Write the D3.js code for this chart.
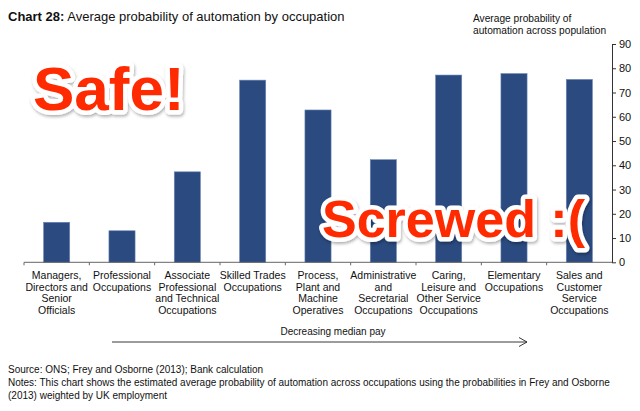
<!DOCTYPE html>
<html><head><meta charset="utf-8">
<script src="https://cdn.jsdelivr.net/npm/d3@7/dist/d3.min.js"></script>
<style>
body{margin:0;background:#fff;}
svg{display:block;font-family:"Liberation Sans",Arial,Helvetica,sans-serif;}
</style></head>
<body>
<script>
const categories = [
  ["Managers,","Directors and","Senior","Officials"],
  ["Professional","Occupations"],
  ["Associate","Professional","and Technical","Occupations"],
  ["Skilled Trades","Occupations"],
  ["Process,","Plant and","Machine","Operatives"],
  ["Administrative","and","Secretarial","Occupations"],
  ["Caring,","Leisure and","Other Service","Occupations"],
  ["Elementary","Occupations"],
  ["Sales and","Customer","Service","Occupations"]
];
const values = [16.5, 13.0, 37.3, 75.1, 62.8, 42.3, 77.2, 77.8, 75.4];
const yTicks = [0,10,20,30,40,50,60,70,80,90];
const titleBold = "Chart 28:";
const titleText = " Average probability of automation by occupation";
const yTitle = ["Average probability of","automation across population"];
const arrowLabel = "Decreasing median pay";
const notes = [
  "Source: ONS; Frey and Osborne (2013); Bank calculation",
  "Notes: This chart shows the estimated average probability of automation across occupations using the probabilities in Frey and Osborne",
  "(2013) weighted by UK employment"
];
const stickers = [{text:"Safe!", size:62}, {text:"Screwed :(", size:52}];

const W = 640, H = 411;
const svg = d3.select("body").append("svg").attr("width", W).attr("height", H);

const x = d3.scaleBand().domain(d3.range(categories.length)).range([24, 612]).paddingInner(0.6).paddingOuter(0.3);
const y = d3.scaleLinear().domain([0, 90]).range([262.3, 44]);

// defs for sticker shadow
const defs = svg.append("defs");
const f = defs.append("filter").attr("id","sh").attr("x","-10%").attr("y","-20%").attr("width","130%").attr("height","150%");
f.append("feDropShadow").attr("dx",1).attr("dy",2).attr("stdDeviation",1.5).attr("flood-color","#000").attr("flood-opacity",0.3);

// title
const t = svg.append("text").attr("x", 8).attr("y", 21).attr("font-size", 13).attr("fill", "#111");
t.append("tspan").attr("font-weight","bold").text(titleBold);
t.append("tspan").text(titleText);

// y title
svg.append("g").selectAll("text").data(yTitle).join("text")
  .attr("x", 473).attr("y", (d,i)=> 22 + i*12).attr("font-size", 10.2).attr("fill","#111").text(d=>d);

// bars
svg.append("g").selectAll("rect").data(values).join("rect")
  .attr("x", (d,i)=> x(i)).attr("width", x.bandwidth())
  .attr("y", d=> y(d)).attr("height", d=> y(0)-y(d))
  .attr("fill", "#2a4a80").attr("stroke","#6d87b3").attr("stroke-width",0.6);

// x axis line + ticks at band boundaries
const step = x.step();
const gx = svg.append("g");
gx.append("line").attr("x1", 24).attr("x2", 612).attr("y1", y(0)).attr("y2", y(0)).attr("stroke","#666").attr("stroke-width",1);
gx.selectAll("line.tk").data(d3.range(categories.length)).join("line").attr("class","tk")
  .attr("x1", (d,i)=> x(i) - step*0.3).attr("x2", (d,i)=> x(i) - step*0.3)
  .attr("y1", y(0)).attr("y2", y(0)+3).attr("stroke","#666");

// y axis
const gy = svg.append("g").attr("transform", "translate(612,0)")
  .call(d3.axisRight(y).tickValues(yTicks).tickSize(4).tickPadding(3).tickSizeOuter(0));
gy.select(".domain").attr("stroke","#333");
gy.selectAll(".tick line").attr("stroke","#333");
gy.selectAll(".tick text").attr("font-size", 11).attr("fill","#111").attr("font-family","Liberation Sans, Arial, sans-serif");

// x labels
const gl = svg.append("g");
categories.forEach((lines, i) => {
  const cx = x(i) + x.bandwidth()/2;
  gl.append("g").selectAll("text").data(lines).join("text")
    .attr("x", cx).attr("y", (d,j)=> 279 + j*11.5).attr("text-anchor","middle")
    .attr("font-size", 10.5).attr("fill","#111").text(d=>d);
});

// arrow
svg.append("text").attr("x", 333).attr("y", 335).attr("text-anchor","middle").attr("font-size",10).attr("fill","#111").text(arrowLabel);
svg.append("line").attr("x1",112).attr("x2",527).attr("y1",342).attr("y2",342).attr("stroke","#222").attr("stroke-width",0.9);
svg.append("path").attr("d","M519,337.5 L527,342 L519,346.5").attr("fill","none").attr("stroke","#222").attr("stroke-width",0.9);

// notes
svg.append("g").selectAll("text").data(notes).join("text")
  .attr("x", 8).attr("y", (d,i)=> 373 + i*13).attr("font-size", 10).attr("fill","#111").text(d=>d);

// stickers
const pos = [[33,110],[322,237]];
stickers.forEach((s,i) => {
  svg.append("text").attr("x", pos[i][0]).attr("y", pos[i][1])
    .attr("font-size", s.size).attr("font-weight","bold")
    .attr("fill","#ff2a00").attr("stroke","#fff").attr("stroke-width",9).attr("stroke-linejoin","round")
    .attr("paint-order","stroke").attr("filter","url(#sh)").text(s.text);
});
</script>
</body></html>
